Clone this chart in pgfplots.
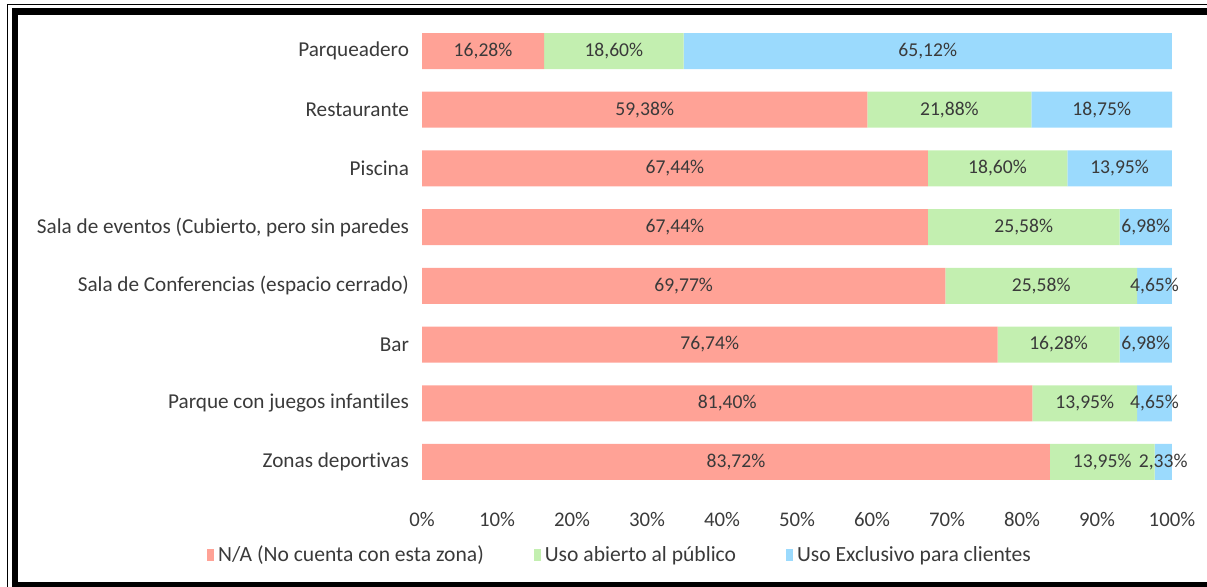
\documentclass[border=0pt]{standalone}
\usepackage{pgfplots}
\pgfplotsset{compat=1.18}
\usepackage{pgfplotstable}
\usepackage{fontspec}
\setmainfont{Carlito}[Ligatures={NoCommon}]

\definecolor{cna}{HTML}{FFA296}
\definecolor{cpub}{HTML}{C3EFB0}
\definecolor{ccli}{HTML}{9BDAFD}
\definecolor{txt}{HTML}{3A3A3A}

% 0 = bottom (Zonas deportivas), 7 = top (Parqueadero)
\pgfplotstableread{
y na pub cli
7 16.28 18.60 65.12
6 59.38 21.88 18.75
5 67.44 18.60 13.95
4 67.44 25.58 6.98
3 69.77 25.58 4.65
2 76.74 16.28 6.98
1 81.40 13.95 4.65
0 83.72 13.95 2.33
}\datatable
% centre of each segment, for the value labels
\pgfplotstablecreatecol[create col/expr={\thisrow{na}/2}]{mna}\datatable
\pgfplotstablecreatecol[create col/expr={\thisrow{na}+\thisrow{pub}/2}]{mpub}\datatable
\pgfplotstablecreatecol[create col/expr={\thisrow{na}+\thisrow{pub}+\thisrow{cli}/2}]{mcli}\datatable

\pgfplotsset{
	common/.style={
		scale only axis,
		width=375pt,
		height=234.85pt,
		xmin=0, xmax=100,
		ymin=-0.5, ymax=7.5,
		clip=false,
	},
}

\begin{document}
\begin{tikzpicture}
\begin{axis}[
	common,
	xbar stacked,
	bar width=18pt,
	axis line style={draw=none},
	tick style={draw=none},
	xtick={0,10,...,100},
	xticklabel={\pgfmathprintnumber{\tick}\%},
	ytick={0,...,7},
	yticklabels={Zonas deportivas,Parque con juegos infantiles,Bar,Sala de Conferencias (espacio cerrado),Sala de eventos (Cubierto{,} pero sin paredes,Piscina,Restaurante,Parqueadero},
	/pgf/number format/assume math mode=true,
	yticklabel style={font=\fontsize{10.6}{12}\selectfont, text=txt, xshift=-3pt},
	xticklabel style={font=\fontsize{10.4}{12}\selectfont, text=txt, yshift=-7pt},
	legend columns=3,
	legend style={at={(-0.295,-0.1356)}, anchor=west, draw=none, fill=none,
		font=\fontsize{10.8}{12}\selectfont, text=txt,
		/tikz/every even column/.append style={column sep=23pt}},
	legend image code/.code={\fill[#1] (0pt,-3.2pt) rectangle (3.5pt,3.2pt);},
]
	\addplot[fill=cna, draw=none] table[x=na, y=y] {\datatable};
	\addplot[fill=cpub, draw=none] table[x=pub, y=y] {\datatable};
	\addplot[fill=ccli, draw=none] table[x=cli, y=y] {\datatable};
	\legend{N/A (No cuenta con esta zona),Uso abierto al público,Uso Exclusivo para clientes}

	% frame round the picture
	\draw[line width=0.5pt] (rel axis cs:-0.5527,-0.2037) -- (rel axis cs:-0.5527,1.0357) -- (rel axis cs:1.0467,1.0357);
	\draw[line width=3pt] (rel axis cs:-0.5427,1.029) -- (rel axis cs:-0.5427,-0.2037);
	\draw[line width=3.5pt] (rel axis cs:-0.5467,1.0215) -- (rel axis cs:1.0467,1.0215);
	\draw[line width=2.5pt] (rel axis cs:-0.5467,-0.1984) -- (rel axis cs:1.0467,-0.1984);
	\coordinate (bbl) at (rel axis cs:-0.5627,-0.2037);
	\coordinate (btr) at (rel axis cs:1.0467,1.0461);
\end{axis}
% value labels, centred in each segment
\begin{axis}[
	common,
	hide axis,
	point meta=explicit,
	/pgf/number format/assume math mode=true,
	nodes near coords={\pgfmathprintnumber[fixed,fixed zerofill,precision=2,use comma]{\pgfplotspointmeta}\%},
	every node near coord/.append style={font=\fontsize{9.8}{11}\selectfont, text=txt, anchor=center},
]
	\addplot[draw=none, mark=none] table[x=mna, y=y, meta=na] {\datatable};
	\addplot[draw=none, mark=none] table[x=mpub, y=y, meta=pub] {\datatable};
	\addplot[draw=none, mark=none] table[x=mcli, y=y, meta=cli] {\datatable};
\end{axis}
\pgfresetboundingbox
\useasboundingbox (bbl) rectangle (btr);
\end{tikzpicture}
\end{document}
